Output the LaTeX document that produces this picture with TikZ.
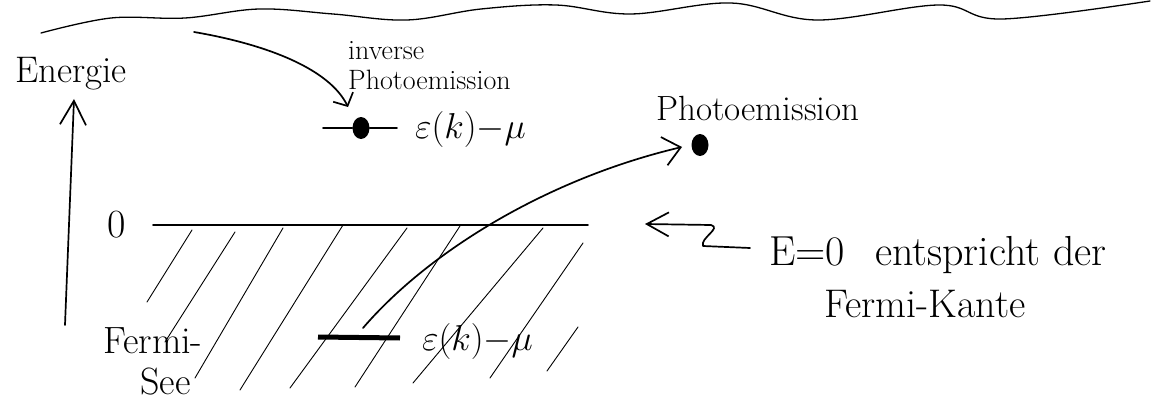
\documentclass[tikz,border=0pt]{standalone}
\usepackage{fix-cm}
\usetikzlibrary{arrows.meta,shapes.geometric}
\begin{document}
\begin{tikzpicture}[x=1pt,y=-1pt,
  ink/.style={line width=1.7pt, line cap=round, line join=round},
  hatch/.style={line width=0.9pt, line cap=round},
  wave/.style={line width=1.3pt, line cap=round},
  lbl/.style={inner sep=0pt, anchor=base west},
  big/.style={font=\fontsize{40}{44}\selectfont},
  mid/.style={font=\fontsize{36}{40}\selectfont},
  small/.style={font=\fontsize{28}{30}\selectfont},
  dotnode/.style={ellipse, fill=black, minimum width=17pt, minimum height=22pt, inner sep=0pt},
  axisbarb/.style={-{Straight Barb[length=24pt,width=26pt]}},
  hookbarb/.style={-{Straight Barb[length=10pt,width=22pt]}},
  pebarb/.style={-{Straight Barb[length=17pt,width=29pt]}},
  sqbarb/.style={-{Straight Barb[length=22pt,width=24pt]}}
]
\fill[white] (0,0) rectangle (1152,412);
\useasboundingbox (0,0) rectangle (1152,412);

% wavy top border
\draw[wave] plot[smooth, tension=0.6] coordinates {(41,33) (111,18) (185,18) (259,9) (333,14) (407,20) (481,9) (556,5) (631,14) (731,3) (817,20) (939,5) (1002,19) (1150,1)};

% energy axis
\coordinate (axB) at (65,325);
\coordinate (axT) at (74,99);
\draw[ink, axisbarb] (axB) -- (axT);
\node[lbl, font=\fontsize{37}{40}\selectfont] (energie) at (15,82) {Energie};

% Fermi edge and hatching
\node[lbl, big] (zero) at (107,237) {0};
\coordinate (fL) at (153,225);
\coordinate (fR) at (588,225);
\draw[ink] (fL) -- (fR);
\draw[hatch] (192,230) -- (147,302);
\draw[hatch] (235,232) -- (165,342);
\draw[hatch] (283,228) -- (195,378);
\draw[hatch] (343,225) -- (240,390);
\draw[hatch] (407,228) -- (290,388);
\draw[hatch] (460,226) -- (355,387);
\draw[hatch] (543,228) -- (413,383);
\draw[hatch] (583,243) -- (490,378);
\draw[hatch] (578,327) -- (547,371);
\node[lbl, font=\fontsize{38}{40}\selectfont] (fs1) at (103,353) {Fermi-};
\node[lbl, font=\fontsize{38}{40}\selectfont] (fs2) at (140,394) {See};

% occupied level
\coordinate (barL) at (318,337);
\coordinate (barR) at (400,338);
\draw[line width=5pt] (barL) -- (barR);
\node[lbl, mid] (elo) at (422,350) {$\varepsilon(k){-}\mu$};

% unoccupied level (inverse photoemission)
\node[dotnode] (dup) at (361,128) {};
\coordinate (lupL) at (323,128);
\coordinate (lupR) at (397,128);
\draw[ink] (lupL) -- (dup.west);
\draw[ink] (dup.east) -- (lupR);
\node[lbl, mid] (eup) at (415,138) {$\varepsilon(k){-}\mu$};
\node[lbl, small] (inv1) at (348,60) {inverse};
\node[lbl, small] (inv2) at (348,89) {Photoemission};
\coordinate (invS) at (194,32);
\coordinate (invT) at (348,107);
\draw[ink, hookbarb] (invS) .. controls (270,45) and (330,70) .. (invT);

% photoemission
\node[dotnode] (dpe) at (700,145) {};
\node[lbl, font=\fontsize{35}{38}\selectfont] (pe) at (656,121) {Photoemission};
\coordinate (peS) at (363,328);
\coordinate (peT) at (682,147);
\draw[ink, pebarb] (peS) .. controls (430,250) and (550,178) .. (peT);

% Fermi edge annotation
\coordinate (sqS) at (750,248);
\coordinate (sqT) at (645,224);
\draw[ink, sqbarb] (sqS) -- (703,246) .. controls (700,238) and (722,228) .. (711,225) -- (sqT);
\node[lbl, font=\fontsize{42}{46}\selectfont] (e0) at (769,265) {E=0\hspace{30pt}entspricht der};
\node[lbl, big] (fk) at (824,317) {Fermi-Kante};
\end{tikzpicture}
\end{document}
